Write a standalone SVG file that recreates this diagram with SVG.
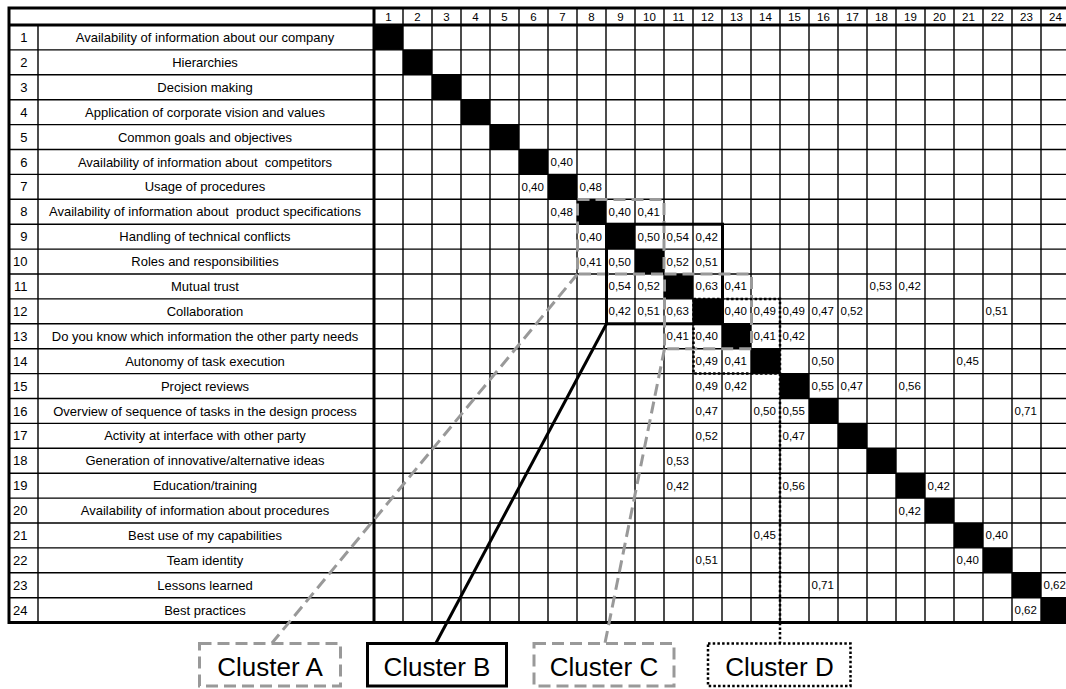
<svg xmlns="http://www.w3.org/2000/svg" width="1066" height="689" viewBox="0 0 1066 689">
<style>
text{font-family:"Liberation Sans",Arial,sans-serif;fill:#000}
.lb{font-size:13px;text-anchor:middle}
.rn{font-size:13px;text-anchor:end}
.hd{font-size:11.5px;text-anchor:middle}
.v{font-size:11.5px}
.cl{font-size:26px;text-anchor:middle}
.thin{stroke:#000;stroke-width:1.4;fill:none}
.thick{stroke:#000;stroke-width:3;fill:none}
.gd{stroke:#999;stroke-width:3;fill:none;stroke-dasharray:12 6}
.bs{stroke:#000;stroke-width:3;fill:none}
.dt{stroke:#000;stroke-width:2.5;fill:none;stroke-dasharray:2.5 2.2}
</style>
<rect width="1066" height="689" fill="#fff"/>
<g id="table">
<g id="diagonal" fill="#000">
<rect x="374" y="25" width="29" height="24.9"/>
<rect x="403" y="49.9" width="29" height="24.9"/>
<rect x="432" y="74.8" width="29" height="24.9"/>
<rect x="461" y="99.7" width="29" height="24.9"/>
<rect x="490" y="124.6" width="29" height="24.9"/>
<rect x="519" y="149.5" width="29" height="24.9"/>
<rect x="548" y="174.4" width="29" height="24.9"/>
<rect x="577" y="199.3" width="29" height="24.9"/>
<rect x="606" y="224.2" width="29" height="24.9"/>
<rect x="635" y="249.1" width="29" height="24.9"/>
<rect x="664" y="274" width="29" height="24.9"/>
<rect x="693" y="298.9" width="29" height="24.9"/>
<rect x="722" y="323.8" width="29" height="24.9"/>
<rect x="751" y="348.7" width="29" height="24.9"/>
<rect x="780" y="373.6" width="29" height="24.9"/>
<rect x="809" y="398.5" width="29" height="24.9"/>
<rect x="838" y="423.4" width="29" height="24.9"/>
<rect x="867" y="448.3" width="29" height="24.9"/>
<rect x="896" y="473.2" width="29" height="24.9"/>
<rect x="925" y="498.1" width="29" height="24.9"/>
<rect x="954" y="523" width="29" height="24.9"/>
<rect x="983" y="547.9" width="29" height="24.9"/>
<rect x="1012" y="572.8" width="29" height="24.9"/>
<rect x="1041" y="597.7" width="29" height="24.9"/>
</g>
<path class="thin" d="M9 49.9H1070M9 74.8H1070M9 99.7H1070M9 124.6H1070M9 149.5H1070M9 174.4H1070M9 199.3H1070M9 224.2H1070M9 249.1H1070M9 274H1070M9 298.9H1070M9 323.8H1070M9 348.7H1070M9 373.6H1070M9 398.5H1070M9 423.4H1070M9 448.3H1070M9 473.2H1070M9 498.1H1070M9 523H1070M9 547.9H1070M9 572.8H1070M9 597.7H1070
M38 25V622.6M403 8V622.6M432 8V622.6M461 8V622.6M490 8V622.6M519 8V622.6M548 8V622.6M577 8V622.6M606 8V622.6M635 8V622.6M664 8V622.6M693 8V622.6M722 8V622.6M751 8V622.6M780 8V622.6M809 8V622.6M838 8V622.6M867 8V622.6M896 8V622.6M925 8V622.6M954 8V622.6M983 8V622.6M1012 8V622.6M1041 8V622.6"/>
<path class="thick" d="M9 8H1070M9 25H1070M9 622.6H1070M9 6.5V624.1M374 8V622.6"/>
<g id="header">
<text class="hd" x="388.5" y="20.8">1</text><text class="hd" x="417.5" y="20.8">2</text><text class="hd" x="446.5" y="20.8">3</text><text class="hd" x="475.5" y="20.8">4</text><text class="hd" x="504.5" y="20.8">5</text><text class="hd" x="533.5" y="20.8">6</text><text class="hd" x="562.5" y="20.8">7</text><text class="hd" x="591.5" y="20.8">8</text><text class="hd" x="620.5" y="20.8">9</text><text class="hd" x="649.5" y="20.8">10</text><text class="hd" x="678.5" y="20.8">11</text><text class="hd" x="707.5" y="20.8">12</text><text class="hd" x="736.5" y="20.8">13</text><text class="hd" x="765.5" y="20.8">14</text><text class="hd" x="794.5" y="20.8">15</text><text class="hd" x="823.5" y="20.8">16</text><text class="hd" x="852.5" y="20.8">17</text><text class="hd" x="881.5" y="20.8">18</text><text class="hd" x="910.5" y="20.8">19</text><text class="hd" x="939.5" y="20.8">20</text><text class="hd" x="968.5" y="20.8">21</text><text class="hd" x="997.5" y="20.8">22</text><text class="hd" x="1026.5" y="20.8">23</text><text class="hd" x="1055.5" y="20.8">24</text>
</g>
<g id="row-labels">
<text class="rn" x="27.5" y="42.05">1</text><text class="lb" x="205" y="42.05">Availability of information about our company</text>
<text class="rn" x="27.5" y="66.95">2</text><text class="lb" x="205" y="66.95">Hierarchies</text>
<text class="rn" x="27.5" y="91.85">3</text><text class="lb" x="205" y="91.85">Decision making</text>
<text class="rn" x="27.5" y="116.75">4</text><text class="lb" x="205" y="116.75">Application of corporate vision and values</text>
<text class="rn" x="27.5" y="141.65">5</text><text class="lb" x="205" y="141.65">Common goals and objectives</text>
<text class="rn" x="27.5" y="166.55">6</text><text class="lb" x="205" y="166.55" xml:space="preserve">Availability of information about  competitors</text>
<text class="rn" x="27.5" y="191.45">7</text><text class="lb" x="205" y="191.45">Usage of procedures</text>
<text class="rn" x="27.5" y="216.35">8</text><text class="lb" x="205" y="216.35" xml:space="preserve">Availability of information about  product specifications</text>
<text class="rn" x="27.5" y="241.25">9</text><text class="lb" x="205" y="241.25">Handling of technical conflicts</text>
<text class="rn" x="27.5" y="266.15">10</text><text class="lb" x="205" y="266.15">Roles and responsibilities</text>
<text class="rn" x="27.5" y="291.05">11</text><text class="lb" x="205" y="291.05">Mutual trust</text>
<text class="rn" x="27.5" y="315.95">12</text><text class="lb" x="205" y="315.95">Collaboration</text>
<text class="rn" x="27.5" y="340.85">13</text><text class="lb" x="205" y="340.85">Do you know which information the other party needs</text>
<text class="rn" x="27.5" y="365.75">14</text><text class="lb" x="205" y="365.75">Autonomy of task execution</text>
<text class="rn" x="27.5" y="390.65">15</text><text class="lb" x="205" y="390.65">Project reviews</text>
<text class="rn" x="27.5" y="415.55">16</text><text class="lb" x="205" y="415.55">Overview of sequence of tasks in the design process</text>
<text class="rn" x="27.5" y="440.45">17</text><text class="lb" x="205" y="440.45">Activity at interface with other party</text>
<text class="rn" x="27.5" y="465.35">18</text><text class="lb" x="205" y="465.35">Generation of innovative/alternative ideas</text>
<text class="rn" x="27.5" y="490.25">19</text><text class="lb" x="205" y="490.25">Education/training</text>
<text class="rn" x="27.5" y="515.15">20</text><text class="lb" x="205" y="515.15">Availability of information about procedures</text>
<text class="rn" x="27.5" y="540.05">21</text><text class="lb" x="205" y="540.05">Best use of my capabilities</text>
<text class="rn" x="27.5" y="564.95">22</text><text class="lb" x="205" y="564.95">Team identity</text>
<text class="rn" x="27.5" y="589.85">23</text><text class="lb" x="205" y="589.85">Lessons learned</text>
<text class="rn" x="27.5" y="614.75">24</text><text class="lb" x="205" y="614.75">Best practices</text>
</g>
<g id="values">
<text class="v" x="550.5" y="165.9">0,40</text>
<text class="v" x="521.5" y="190.8">0,40</text><text class="v" x="579.5" y="190.8">0,48</text>
<text class="v" x="550.5" y="215.7">0,48</text><text class="v" x="608.5" y="215.7">0,40</text><text class="v" x="637.5" y="215.7">0,41</text>
<text class="v" x="579.5" y="240.6">0,40</text><text class="v" x="637.5" y="240.6">0,50</text><text class="v" x="666.5" y="240.6">0,54</text><text class="v" x="695.5" y="240.6">0,42</text>
<text class="v" x="579.5" y="265.5">0,41</text><text class="v" x="608.5" y="265.5">0,50</text><text class="v" x="666.5" y="265.5">0,52</text><text class="v" x="695.5" y="265.5">0,51</text>
<text class="v" x="608.5" y="290.4">0,54</text><text class="v" x="637.5" y="290.4">0,52</text><text class="v" x="695.5" y="290.4">0,63</text><text class="v" x="724.5" y="290.4">0,41</text><text class="v" x="869.5" y="290.4">0,53</text><text class="v" x="898.5" y="290.4">0,42</text>
<text class="v" x="608.5" y="315.3">0,42</text><text class="v" x="637.5" y="315.3">0,51</text><text class="v" x="666.5" y="315.3">0,63</text><text class="v" x="724.5" y="315.3">0,40</text><text class="v" x="753.5" y="315.3">0,49</text><text class="v" x="782.5" y="315.3">0,49</text><text class="v" x="811.5" y="315.3">0,47</text><text class="v" x="840.5" y="315.3">0,52</text><text class="v" x="985.5" y="315.3">0,51</text>
<text class="v" x="666.5" y="340.2">0,41</text><text class="v" x="695.5" y="340.2">0,40</text><text class="v" x="753.5" y="340.2">0,41</text><text class="v" x="782.5" y="340.2">0,42</text>
<text class="v" x="695.5" y="365.1">0,49</text><text class="v" x="724.5" y="365.1">0,41</text><text class="v" x="811.5" y="365.1">0,50</text><text class="v" x="956.5" y="365.1">0,45</text>
<text class="v" x="695.5" y="390">0,49</text><text class="v" x="724.5" y="390">0,42</text><text class="v" x="811.5" y="390">0,55</text><text class="v" x="840.5" y="390">0,47</text><text class="v" x="898.5" y="390">0,56</text>
<text class="v" x="695.5" y="414.9">0,47</text><text class="v" x="753.5" y="414.9">0,50</text><text class="v" x="782.5" y="414.9">0,55</text><text class="v" x="1014.5" y="414.9">0,71</text>
<text class="v" x="695.5" y="439.8">0,52</text><text class="v" x="782.5" y="439.8">0,47</text>
<text class="v" x="666.5" y="464.7">0,53</text>
<text class="v" x="666.5" y="489.6">0,42</text><text class="v" x="782.5" y="489.6">0,56</text><text class="v" x="927.5" y="489.6">0,42</text>
<text class="v" x="898.5" y="514.5">0,42</text>
<text class="v" x="753.5" y="539.4">0,45</text><text class="v" x="985.5" y="539.4">0,40</text>
<text class="v" x="695.5" y="564.3">0,51</text><text class="v" x="956.5" y="564.3">0,40</text>
<text class="v" x="811.5" y="589.2">0,71</text><text class="v" x="1043.5" y="589.2">0,62</text>
<text class="v" x="1014.5" y="614.1">0,62</text>
</g>
</g>
<g id="cluster-outlines">
<rect class="gd" x="577.5" y="199.5" width="86.5" height="74.5"/>
<rect class="bs" x="606.5" y="224.2" width="116" height="99.6"/>
<rect class="gd" x="664.5" y="274" width="87" height="74.7"/>
<rect class="dt" x="693.5" y="298.9" width="86.5" height="74.7"/>
</g>
<g id="connectors">
<line class="gd" x1="577.5" y1="274" x2="272" y2="643"/>
<line class="bs" x1="606.5" y1="323.8" x2="436" y2="643"/>
<line class="gd" x1="664.5" y1="348.7" x2="605" y2="643"/>
<line class="dt" x1="780" y1="373.6" x2="780" y2="643"/>
</g>
<g id="cluster-a">
<rect class="gd" x="199.5" y="643.5" width="141" height="42.5"/>
<text class="cl" x="270" y="675.5">Cluster A</text>
</g>
<g id="cluster-b">
<rect class="bs" x="367.5" y="643.5" width="139" height="42.5"/>
<text class="cl" x="437" y="675.5">Cluster B</text>
</g>
<g id="cluster-c">
<rect class="gd" x="534" y="643.5" width="140" height="42.5"/>
<text class="cl" x="604" y="675.5">Cluster C</text>
</g>
<g id="cluster-d">
<rect class="dt" x="708" y="643.5" width="142.5" height="42.5"/>
<text class="cl" x="779.5" y="675.5">Cluster D</text>
</g>
</svg>
